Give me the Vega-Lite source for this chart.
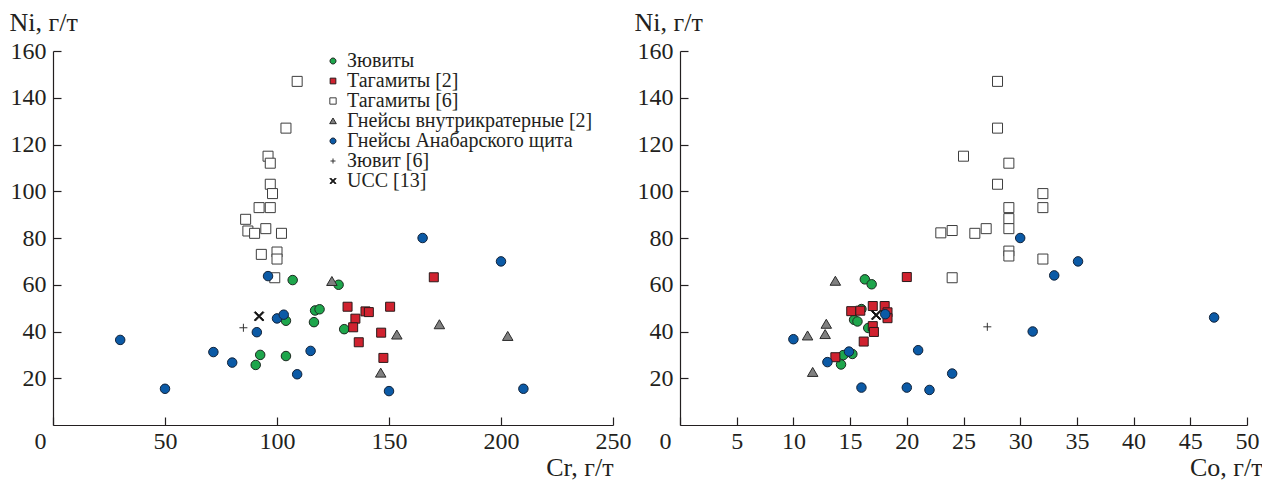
{
  "$schema": "https://vega.github.io/schema/vega-lite/v6.json",
  "padding": {"left": 9, "top": 9, "right": 0, "bottom": 0},
  "background": "white",
  "bounds": "flush",
  "spacing": 67,
  "datasets": {
    "cr": [
      {"g": "Тагамиты [6]", "Cr": 109, "Ni": 147},
      {"g": "Тагамиты [6]", "Cr": 104, "Ni": 127},
      {"g": "Тагамиты [6]", "Cr": 96, "Ni": 115},
      {"g": "Тагамиты [6]", "Cr": 97, "Ni": 112},
      {"g": "Тагамиты [6]", "Cr": 97, "Ni": 103},
      {"g": "Тагамиты [6]", "Cr": 98, "Ni": 99},
      {"g": "Тагамиты [6]", "Cr": 92, "Ni": 93},
      {"g": "Тагамиты [6]", "Cr": 97, "Ni": 93},
      {"g": "Тагамиты [6]", "Cr": 86, "Ni": 88},
      {"g": "Тагамиты [6]", "Cr": 87, "Ni": 83},
      {"g": "Тагамиты [6]", "Cr": 90, "Ni": 82},
      {"g": "Тагамиты [6]", "Cr": 95, "Ni": 84},
      {"g": "Тагамиты [6]", "Cr": 102, "Ni": 82},
      {"g": "Тагамиты [6]", "Cr": 93, "Ni": 73},
      {"g": "Тагамиты [6]", "Cr": 100, "Ni": 74},
      {"g": "Тагамиты [6]", "Cr": 100, "Ni": 71},
      {"g": "Тагамиты [6]", "Cr": 99, "Ni": 63},
      {"g": "Зювиты", "Cr": 107, "Ni": 62},
      {"g": "Зювиты", "Cr": 127.5, "Ni": 60},
      {"g": "Зювиты", "Cr": 117, "Ni": 49},
      {"g": "Зювиты", "Cr": 119, "Ni": 49.5},
      {"g": "Зювиты", "Cr": 104, "Ni": 44.6},
      {"g": "Зювиты", "Cr": 116.5, "Ni": 44},
      {"g": "Зювиты", "Cr": 130, "Ni": 41},
      {"g": "Зювиты", "Cr": 92.5, "Ni": 30},
      {"g": "Зювиты", "Cr": 104, "Ni": 29.5},
      {"g": "Зювиты", "Cr": 90.5, "Ni": 25.7},
      {"g": "Тагамиты [2]", "Cr": 131.5, "Ni": 50.6},
      {"g": "Тагамиты [2]", "Cr": 135, "Ni": 45.5},
      {"g": "Тагамиты [2]", "Cr": 134, "Ni": 41.8},
      {"g": "Тагамиты [2]", "Cr": 136.5, "Ni": 35.4},
      {"g": "Тагамиты [2]", "Cr": 139.5, "Ni": 48.6},
      {"g": "Тагамиты [2]", "Cr": 141, "Ni": 48.3},
      {"g": "Тагамиты [2]", "Cr": 150.5, "Ni": 50.6},
      {"g": "Тагамиты [2]", "Cr": 146.5, "Ni": 39.5},
      {"g": "Тагамиты [2]", "Cr": 147.5, "Ni": 28.7},
      {"g": "Тагамиты [2]", "Cr": 170, "Ni": 63.2},
      {"g": "Гнейсы внутрикратерные [2]", "Cr": 124.5, "Ni": 61.5},
      {"g": "Гнейсы внутрикратерные [2]", "Cr": 172.5, "Ni": 43},
      {"g": "Гнейсы внутрикратерные [2]", "Cr": 153.5, "Ni": 38.6},
      {"g": "Гнейсы внутрикратерные [2]", "Cr": 203, "Ni": 38},
      {"g": "Гнейсы внутрикратерные [2]", "Cr": 146.3, "Ni": 22.3},
      {"g": "Гнейсы Анабарского щита", "Cr": 30, "Ni": 36.4},
      {"g": "Гнейсы Анабарского щита", "Cr": 50, "Ni": 15.5},
      {"g": "Гнейсы Анабарского щита", "Cr": 71.6, "Ni": 31.2},
      {"g": "Гнейсы Анабарского щита", "Cr": 80, "Ni": 26.7},
      {"g": "Гнейсы Анабарского щита", "Cr": 91, "Ni": 39.7},
      {"g": "Гнейсы Анабарского щита", "Cr": 96, "Ni": 63.7},
      {"g": "Гнейсы Анабарского щита", "Cr": 100, "Ni": 45.6},
      {"g": "Гнейсы Анабарского щита", "Cr": 103, "Ni": 47.2},
      {"g": "Гнейсы Анабарского щита", "Cr": 109, "Ni": 21.7},
      {"g": "Гнейсы Анабарского щита", "Cr": 115, "Ni": 31.7},
      {"g": "Гнейсы Анабарского щита", "Cr": 150, "Ni": 14.5},
      {"g": "Гнейсы Анабарского щита", "Cr": 165, "Ni": 80},
      {"g": "Гнейсы Анабарского щита", "Cr": 200, "Ni": 70},
      {"g": "Гнейсы Анабарского щита", "Cr": 210, "Ni": 15.5},
      {"g": "Зювит [6]", "Cr": 85, "Ni": 41.6},
      {"g": "UCC [13]", "Cr": 92, "Ni": 46.5}
    ],
    "co": [
      {"g": "Тагамиты [6]", "Co": 28, "Ni": 147},
      {"g": "Тагамиты [6]", "Co": 28, "Ni": 127},
      {"g": "Тагамиты [6]", "Co": 25, "Ni": 115},
      {"g": "Тагамиты [6]", "Co": 29, "Ni": 112},
      {"g": "Тагамиты [6]", "Co": 28, "Ni": 103},
      {"g": "Тагамиты [6]", "Co": 32, "Ni": 99},
      {"g": "Тагамиты [6]", "Co": 32, "Ni": 93},
      {"g": "Тагамиты [6]", "Co": 29, "Ni": 93},
      {"g": "Тагамиты [6]", "Co": 29, "Ni": 88.3},
      {"g": "Тагамиты [6]", "Co": 29, "Ni": 84},
      {"g": "Тагамиты [6]", "Co": 27, "Ni": 84},
      {"g": "Тагамиты [6]", "Co": 26, "Ni": 82},
      {"g": "Тагамиты [6]", "Co": 24, "Ni": 83.2},
      {"g": "Тагамиты [6]", "Co": 23, "Ni": 82.2},
      {"g": "Тагамиты [6]", "Co": 29, "Ni": 74.4},
      {"g": "Тагамиты [6]", "Co": 29, "Ni": 72.3},
      {"g": "Тагамиты [6]", "Co": 32, "Ni": 71},
      {"g": "Тагамиты [6]", "Co": 24, "Ni": 63},
      {"g": "Зювиты", "Co": 16.3, "Ni": 62.3},
      {"g": "Зювиты", "Co": 16.9, "Ni": 60.2},
      {"g": "Зювиты", "Co": 16, "Ni": 49.6},
      {"g": "Зювиты", "Co": 15.35, "Ni": 45},
      {"g": "Зювиты", "Co": 15.65, "Ni": 44.3},
      {"g": "Зювиты", "Co": 16.6, "Ni": 41.5},
      {"g": "Зювиты", "Co": 14.4, "Ni": 29.9},
      {"g": "Зювиты", "Co": 15.2, "Ni": 30.4},
      {"g": "Зювиты", "Co": 14.2, "Ni": 25.9},
      {"g": "Тагамиты [2]", "Co": 20, "Ni": 63.3},
      {"g": "Тагамиты [2]", "Co": 17, "Ni": 50.9},
      {"g": "Тагамиты [2]", "Co": 18.05, "Ni": 50.9},
      {"g": "Тагамиты [2]", "Co": 15.1, "Ni": 48.7},
      {"g": "Тагамиты [2]", "Co": 15.9, "Ni": 48.9},
      {"g": "Тагамиты [2]", "Co": 18.3, "Ni": 48.2},
      {"g": "Тагамиты [2]", "Co": 18.3, "Ni": 45.7},
      {"g": "Тагамиты [2]", "Co": 17, "Ni": 42.3},
      {"g": "Тагамиты [2]", "Co": 17.1, "Ni": 39.8},
      {"g": "Тагамиты [2]", "Co": 16.2, "Ni": 35.7},
      {"g": "Тагамиты [2]", "Co": 13.7, "Ni": 29},
      {"g": "Гнейсы внутрикратерные [2]", "Co": 13.7, "Ni": 61.6},
      {"g": "Гнейсы внутрикратерные [2]", "Co": 12.9, "Ni": 43.2},
      {"g": "Гнейсы внутрикратерные [2]", "Co": 12.8, "Ni": 38.8},
      {"g": "Гнейсы внутрикратерные [2]", "Co": 11.25, "Ni": 38.2},
      {"g": "Гнейсы внутрикратерные [2]", "Co": 11.7, "Ni": 22.6},
      {"g": "Гнейсы Анабарского щита", "Co": 10, "Ni": 36.7},
      {"g": "Гнейсы Анабарского щита", "Co": 13, "Ni": 26.9},
      {"g": "Гнейсы Анабарского щита", "Co": 14.9, "Ni": 31.4},
      {"g": "Гнейсы Анабарского щита", "Co": 16, "Ni": 16},
      {"g": "Гнейсы Анабарского щита", "Co": 18.1, "Ni": 47.4},
      {"g": "Гнейсы Анабарского щита", "Co": 20, "Ni": 16},
      {"g": "Гнейсы Анабарского щита", "Co": 21, "Ni": 32},
      {"g": "Гнейсы Анабарского щита", "Co": 22, "Ni": 15},
      {"g": "Гнейсы Анабарского щита", "Co": 24, "Ni": 22},
      {"g": "Гнейсы Анабарского щита", "Co": 30, "Ni": 80},
      {"g": "Гнейсы Анабарского щита", "Co": 31.1, "Ni": 40},
      {"g": "Гнейсы Анабарского щита", "Co": 33, "Ni": 64},
      {"g": "Гнейсы Анабарского щита", "Co": 35.1, "Ni": 70},
      {"g": "Гнейсы Анабарского щита", "Co": 47.1, "Ni": 46},
      {"g": "Зювит [6]", "Co": 27.1, "Ni": 42},
      {"g": "UCC [13]", "Co": 17.3, "Ni": 47}
    ]
  },
  "hconcat": [
    {
      "width": 560,
      "height": 374,
      "data": {"name": "cr"},
      "mark": {"type": "point", "filled": true, "opacity": 1, "size": 100, "strokeWidth": 1},
      "encoding": {
        "x": {
          "field": "Cr", "type": "quantitative",
          "scale": {"domain": [0, 250], "nice": false, "zero": false},
          "axis": {
            "values": [0, 50, 100, 150, 200, 250],
            "labelPadding": 12,
            "title": "Cr, г/т", "titleX": 560, "titleY": 50, "titleAlign": "right", "titleBaseline": "alphabetic", "titleAnchor": null,
            "labelOffset": {"condition": {"test": "datum.value === 0", "value": -13}, "value": 0}
          }
        },
        "y": {
          "field": "Ni", "type": "quantitative",
          "scale": {"domain": [0, 160], "nice": false},
          "axis": {
            "values": [20, 40, 60, 80, 100, 120, 140, 160],
            "title": "Ni, г/т", "titleAngle": 0, "titleX": -44, "titleY": -21, "titleAlign": "left", "titleBaseline": "alphabetic", "titleAnchor": null
          }
        },
        "shape": {
          "field": "g", "type": "nominal",
          "scale": {
            "domain": ["Зювиты", "Тагамиты [2]", "Тагамиты [6]", "Гнейсы внутрикратерные [2]", "Гнейсы Анабарского щита", "Зювит [6]", "UCC [13]"],
            "range": [
              "M-0.95,0A0.95,0.95 0 1,0 0.95,0A0.95,0.95 0 1,0 -0.95,0Z",
              "M-0.9,-0.9L0.9,-0.9L0.9,0.9L-0.9,0.9Z",
              "M-1,-1L1,-1L1,1L-1,1Z",
              "M0,-0.95L1.05,0.85L-1.05,0.85Z",
              "M-0.95,0A0.95,0.95 0 1,0 0.95,0A0.95,0.95 0 1,0 -0.95,0Z",
              "M-0.8,0L0.8,0M0,-0.8L0,0.8",
              "M-0.95,-0.75L-0.75,-0.95L0,-0.2L0.75,-0.95L0.95,-0.75L0.2,0L0.95,0.75L0.75,0.95L0,0.2L-0.75,0.95L-0.95,0.75L-0.2,0Z"
            ]
          },
          "legend": {"orient": "none", "legendX": 270, "legendY": 0, "title": null}
        },
        "fill": {
          "field": "g", "type": "nominal",
          "scale": {
            "domain": ["Зювиты", "Тагамиты [2]", "Тагамиты [6]", "Гнейсы внутрикратерные [2]", "Гнейсы Анабарского щита", "Зювит [6]", "UCC [13]"],
            "range": ["#1ea64c", "#d0222f", "#ffffff", "#808080", "#0b5aa6", "transparent", "#111111"]
          },
          "legend": {"orient": "none", "legendX": 270, "legendY": 0, "title": null}
        },
        "stroke": {
          "field": "g", "type": "nominal",
          "scale": {
            "domain": ["Зювиты", "Тагамиты [2]", "Тагамиты [6]", "Гнейсы внутрикратерные [2]", "Гнейсы Анабарского щита", "Зювит [6]", "UCC [13]"],
            "range": ["#1f2a22", "#2a1a1a", "#3d3d3d", "#2a2a2a", "#14243a", "#333333", "#111111"]
          },
          "legend": {"orient": "none", "legendX": 270, "legendY": 0, "title": null}
        }
      }
    },
    {
      "width": 567,
      "height": 374,
      "data": {"name": "co"},
      "mark": {"type": "point", "filled": true, "opacity": 1, "size": 100, "strokeWidth": 1},
      "encoding": {
        "x": {
          "field": "Co", "type": "quantitative",
          "scale": {"domain": [0, 50], "nice": false, "zero": false},
          "axis": {
            "values": [0, 5, 10, 15, 20, 25, 30, 35, 40, 45, 50],
            "labelPadding": 12,
            "title": "Co, г/т", "titleX": 582, "titleY": 50, "titleAlign": "right", "titleBaseline": "alphabetic", "titleAnchor": null,
            "labelOffset": {"condition": {"test": "datum.value === 0", "value": -15}, "value": 0}
          }
        },
        "y": {
          "field": "Ni", "type": "quantitative",
          "scale": {"domain": [0, 160], "nice": false},
          "axis": {
            "values": [20, 40, 60, 80, 100, 120, 140, 160],
            "title": "Ni, г/т", "titleAngle": 0, "titleX": -46, "titleY": -21, "titleAlign": "left", "titleBaseline": "alphabetic", "titleAnchor": null
          }
        },
        "shape": {"field": "g", "type": "nominal"},
        "fill": {"field": "g", "type": "nominal"},
        "stroke": {"field": "g", "type": "nominal"}
      }
    }
  ],
  "config": {
    "font": "Liberation Serif",
    "view": {"stroke": null},
    "axis": {
      "grid": false,
      "domainColor": "#231f20",
      "domainWidth": 1.2,
      "tickColor": "#231f20",
      "tickWidth": 1.2,
      "tickSize": -8,
      "labelPadding": 15,
      "labelFont": "Liberation Serif",
      "labelFontSize": 24,
      "labelColor": "#231f20",
      "labelFlush": false,
      "labelOverlap": false,
      "labelBound": false,
      "titleFont": "Liberation Serif",
      "titleFontSize": 26,
      "titleFontWeight": "normal",
      "titleColor": "#231f20"
    },
    "legend": {
      "labelFont": "Liberation Serif",
      "labelFontSize": 20,
      "labelColor": "#231f20",
      "labelLimit": 400,
      "symbolSize": 40,
      "symbolStrokeWidth": 1,
      "rowPadding": 0,
      "labelOffset": 4
    }
  }
}
